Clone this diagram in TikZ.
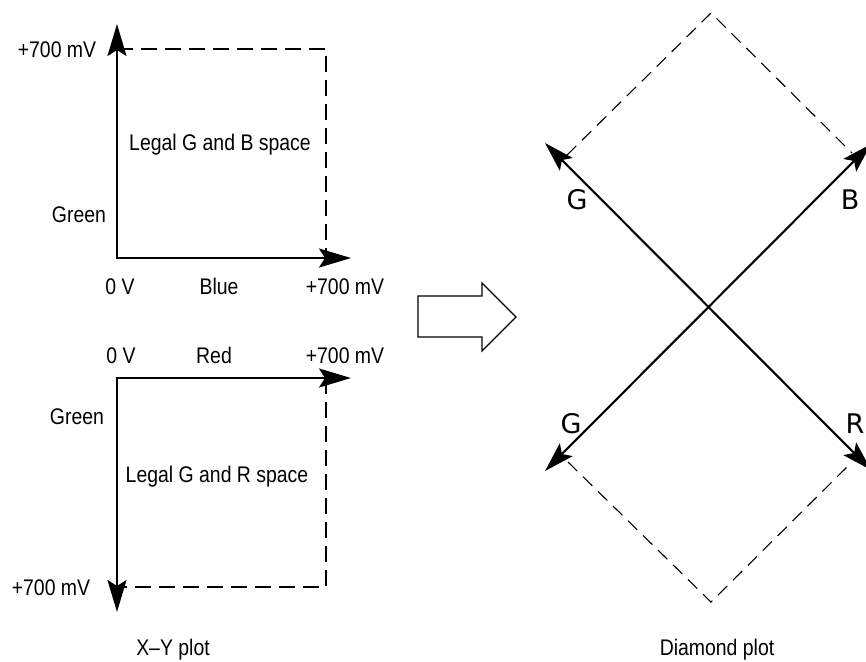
\documentclass[tikz,border=0pt]{standalone}
\usepackage{fontspec}
\usetikzlibrary{arrows.meta}
\newfontfamily\labfont[FakeStretch=0.86]{Liberation Sans}
\newfontfamily\bigfont{DejaVu Sans}
\tikzset{
  lbl/.style={font=\labfont\fontsize{11.3}{13}\selectfont, anchor=base, inner sep=0pt},
  biglbl/.style={font=\bigfont\fontsize{13.5}{15}\selectfont, anchor=base, inner sep=0pt},
  axis/.style={line width=1.15pt, line join=miter, {Stealth[length=16pt,width=9.5pt,inset=3pt]}-{Stealth[length=16pt,width=9.5pt,inset=3pt]}},
  dax/.style={line width=1.05pt, {Stealth[length=15pt,width=9pt,inset=3pt]}-{Stealth[length=15pt,width=9pt,inset=3pt]}},
  boxdash/.style={line width=0.55pt, dash pattern=on 8pt off 4pt},
  diadash/.style={line width=0.55pt, dash pattern=on 6.5pt off 4pt},
  hollow/.style={line width=0.6pt, fill=white, line join=miter}
}
\begin{document}
\begin{tikzpicture}[x=0.5pt,y=-0.5pt]
\clip (0,0) rectangle (866,661);
\fill[white] (0,0) rectangle (866,661);
% ---------- top X-Y plot ----------
\coordinate (O1) at (117,258);
\coordinate (Y1) at (117,24);
\coordinate (X1) at (351,258);
\coordinate (D1a) at (117,49);
\coordinate (D1b) at (326,49);
\coordinate (D1c) at (326,258);
\draw[boxdash] (D1a) -- (D1b) -- (D1c);
\draw[axis] (Y1) -- (O1) -- (X1);
\node[lbl] (t700a) at (57,57) {+700 mV};
\node[lbl] (legGB) at (220,150) {Legal G and B space};
\node[lbl] (greenA) at (79,222) {Green};
\node[lbl] (zeroA) at (120,294) {0 V};
\node[lbl] (blue) at (219,294) {Blue};
\node[lbl] (t700b) at (345,294) {+700 mV};
% ---------- bottom X-Y plot ----------
\coordinate (O2) at (117,378);
\coordinate (X2) at (351,378);
\coordinate (Y2) at (117,612);
\coordinate (D2a) at (326,378);
\coordinate (D2b) at (326,587);
\coordinate (D2c) at (117,587);
\draw[boxdash] (D2a) -- (D2b) -- (D2c);
\draw[axis] (X2) -- (O2) -- (Y2);
\node[lbl] (zeroB) at (121,363) {0 V};
\node[lbl] (red) at (214,363) {Red};
\node[lbl] (t700c) at (345,363) {+700 mV};
\node[lbl] (greenB) at (77,424) {Green};
\node[lbl] (legGR) at (217,482) {Legal G and R space};
\node[lbl] (t700d) at (51,595) {+700 mV};
\node[lbl] (xy) at (173,655) {X\textendash Y plot};
% ---------- hollow arrow ----------
\draw[hollow] (418,296) -- (482,296) -- (482,283) -- (516,317) -- (482,351) -- (482,337) -- (418,337) -- cycle;
% ---------- diamond plot ----------
\coordinate (C) at (708,307);
\coordinate (GU) at (545,143);
\coordinate (BT) at (871,144);
\coordinate (GL) at (545,471);
\coordinate (RT) at (871,470);
\draw[diadash] (567,155) -- (711,13) -- (852,153);
\draw[diadash] (568,462) -- (711,602) -- (852,462);
\draw[dax] (GU) -- (RT);
\draw[dax] (GL) -- (BT);
\node[biglbl] (gU) at (577,209) {G};
\node[biglbl] (bT) at (850,209) {B};
\node[biglbl] (gL) at (571,433) {G};
\node[biglbl] (rT) at (855,433) {R};
\node[lbl] (dia) at (717,655) {Diamond plot};
\end{tikzpicture}
\end{document}
